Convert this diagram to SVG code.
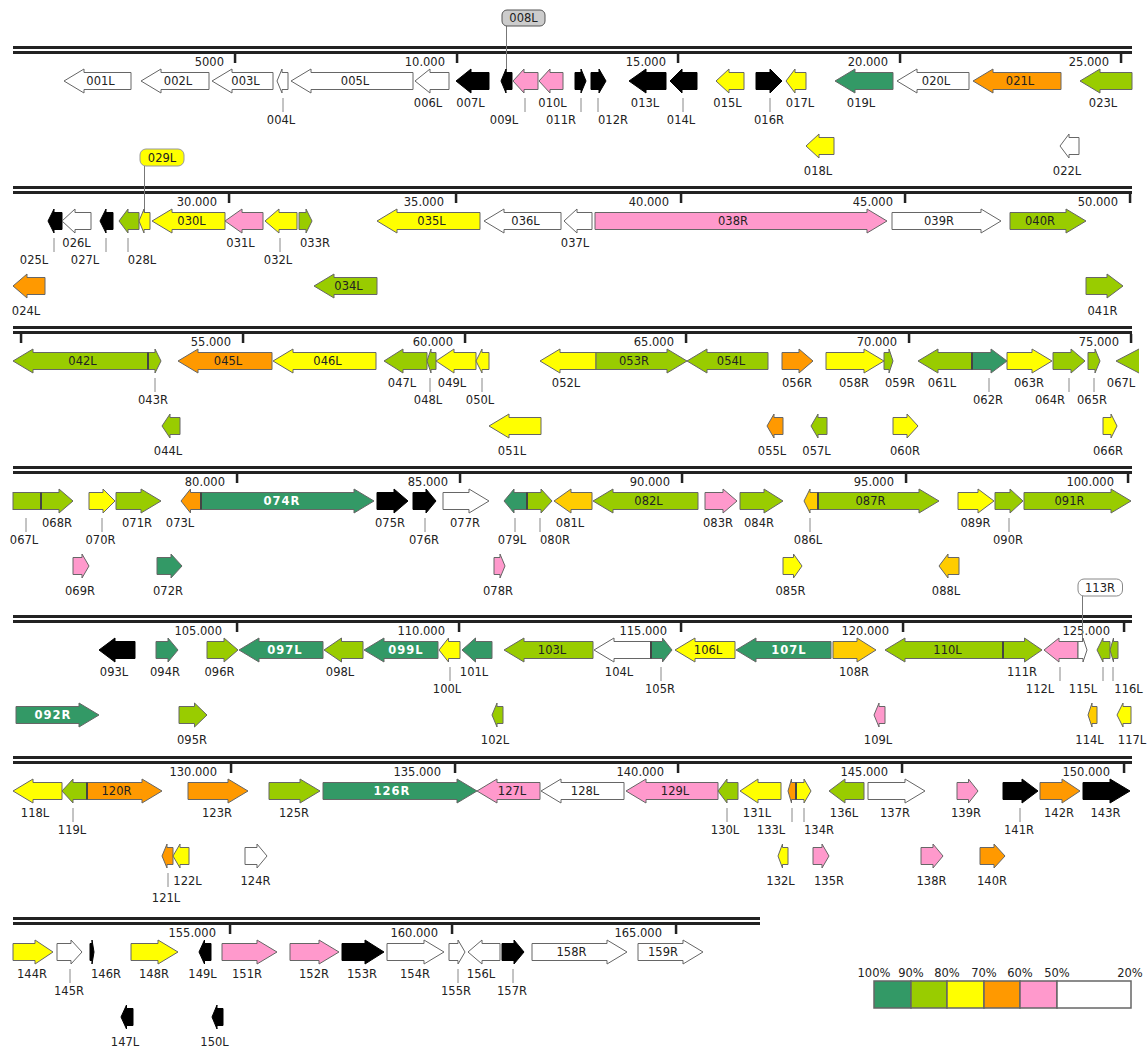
<svg xmlns="http://www.w3.org/2000/svg" width="1148" height="1049" viewBox="0 0 1148 1049">
<style>
.t{font-family:"DejaVu Sans",Verdana,sans-serif;font-size:11.5px;fill:#222;text-anchor:middle}
.te{text-anchor:end}
.tw{fill:#fff;font-weight:bold;letter-spacing:1px}
.a{stroke:#666;stroke-width:1}
.dg{fill:#339966}.lg{fill:#99cc00}.ye{fill:#ffff00}.or{fill:#ff9900}.pk{fill:#ff99cc}.wh{fill:#fff}.am{fill:#ffcc00}
.bk{fill:#000;stroke:#000}
.trk{fill:#222}
.ld{stroke:#888;stroke-width:1}
.dv{stroke:#444;stroke-width:2}
.co{stroke:#777;stroke-width:1}
</style>
<rect width="1148" height="1049" fill="#fff"/>
<g id="tracks">
<rect class="trk" x="13" y="46" width="1119" height="3"/><rect class="trk" x="13" y="51" width="1119" height="3"/>
<rect class="trk" x="13" y="186" width="1119" height="3"/><rect class="trk" x="13" y="191" width="1119" height="3"/>
<rect class="trk" x="13" y="326" width="1119" height="3"/><rect class="trk" x="13" y="331" width="1119" height="3"/>
<rect class="trk" x="13" y="466" width="1119" height="3"/><rect class="trk" x="13" y="471" width="1119" height="3"/>
<rect class="trk" x="13" y="615" width="1119" height="3"/><rect class="trk" x="13" y="620" width="1119" height="3"/>
<rect class="trk" x="13" y="756" width="1119" height="3"/><rect class="trk" x="13" y="761" width="1119" height="3"/>
<rect class="trk" x="13" y="917" width="747" height="3"/><rect class="trk" x="13" y="922" width="747" height="3"/>
<g class="trk">
<rect x="233.8" y="54" width="2.5" height="9"/><rect x="455.8" y="54" width="2.5" height="9"/><rect x="676.8" y="54" width="2.5" height="9"/><rect x="898.8" y="54" width="2.5" height="9"/><rect x="1119.8" y="54" width="2.5" height="9"/>
<rect x="227.8" y="194" width="2.5" height="9"/><rect x="454.8" y="194" width="2.5" height="9"/><rect x="679.8" y="194" width="2.5" height="9"/><rect x="903.8" y="194" width="2.5" height="9"/><rect x="1128.8" y="194" width="2.5" height="9"/>
<rect x="19.8" y="334" width="2.5" height="9"/><rect x="241.8" y="334" width="2.5" height="9"/><rect x="463.8" y="334" width="2.5" height="9"/><rect x="684.8" y="334" width="2.5" height="9"/><rect x="907.8" y="334" width="2.5" height="9"/><rect x="1129.8" y="334" width="2.5" height="9"/>
<rect x="235.8" y="474" width="2.5" height="9"/><rect x="458.8" y="474" width="2.5" height="9"/><rect x="680.8" y="474" width="2.5" height="9"/><rect x="904.8" y="474" width="2.5" height="9"/><rect x="1126.8" y="474" width="2.5" height="9"/>
<rect x="235.8" y="623" width="2.5" height="9"/><rect x="457.8" y="623" width="2.5" height="9"/><rect x="679.8" y="623" width="2.5" height="9"/><rect x="901.8" y="623" width="2.5" height="9"/><rect x="1122.8" y="623" width="2.5" height="9"/>
<rect x="229.8" y="764" width="2.5" height="9"/><rect x="453.8" y="764" width="2.5" height="9"/><rect x="676.8" y="764" width="2.5" height="9"/><rect x="900.8" y="764" width="2.5" height="9"/><rect x="1122.8" y="764" width="2.5" height="9"/>
<rect x="228.8" y="925" width="2.5" height="9"/><rect x="450.8" y="925" width="2.5" height="9"/><rect x="674.8" y="925" width="2.5" height="9"/>
</g>
<g class="t te">
<text x="224" y="66">5000</text><text x="445" y="66">10.000</text><text x="666" y="66">15.000</text><text x="888" y="66">20.000</text><text x="1109" y="66">25.000</text>
<text x="217" y="206">30.000</text><text x="444" y="206">35.000</text><text x="669" y="206">40.000</text><text x="893" y="206">45.000</text><text x="1118" y="206">50.000</text>
<text x="231" y="346">55.000</text><text x="453" y="346">60.000</text><text x="674" y="346">65.000</text><text x="897" y="346">70.000</text><text x="1119" y="346">75.000</text>
<text x="225" y="486">80.000</text><text x="448" y="486">85.000</text><text x="670" y="486">90.000</text><text x="894" y="486">95.000</text><text x="1114" y="486">100.000</text>
<text x="222" y="635">105.000</text><text x="445" y="635">110.000</text><text x="667" y="635">115.000</text><text x="889" y="635">120.000</text><text x="1110" y="635">125.000</text>
<text x="217" y="776">130.000</text><text x="441" y="776">135.000</text><text x="664" y="776">140.000</text><text x="888" y="776">145.000</text><text x="1110" y="776">150.000</text>
<text x="216" y="937">155.000</text><text x="438" y="937">160.000</text><text x="662" y="937">165.000</text>
</g>
</g>
<g id="connectors">
<line class="co" x1="506.5" y1="26" x2="506.5" y2="80"/>
<line class="co" x1="144.5" y1="166" x2="144.5" y2="220"/>
<line class="co" x1="1082.5" y1="596" x2="1082.5" y2="650"/>
<g class="ld">
<line x1="283" y1="98" x2="283" y2="112"/><line x1="525" y1="98" x2="525" y2="112"/><line x1="581" y1="98" x2="581" y2="112"/><line x1="598" y1="98" x2="598" y2="112"/><line x1="683" y1="98" x2="683" y2="112"/><line x1="770" y1="98" x2="770" y2="112"/>
<line x1="54" y1="238" x2="54" y2="252"/><line x1="106" y1="238" x2="106" y2="252"/><line x1="128" y1="238" x2="128" y2="252"/><line x1="280" y1="238" x2="280" y2="252"/>
<line x1="155" y1="378" x2="155" y2="392"/><line x1="430" y1="378" x2="430" y2="392"/><line x1="482" y1="378" x2="482" y2="392"/><line x1="989" y1="378" x2="989" y2="392"/><line x1="1069" y1="378" x2="1069" y2="392"/><line x1="1094" y1="378" x2="1094" y2="392"/>
<line x1="26" y1="518" x2="26" y2="532"/><line x1="102" y1="518" x2="102" y2="532"/><line x1="425" y1="518" x2="425" y2="532"/><line x1="515" y1="518" x2="515" y2="532"/><line x1="540" y1="518" x2="540" y2="532"/><line x1="810" y1="518" x2="810" y2="532"/><line x1="1009" y1="518" x2="1009" y2="532"/>
<line x1="450" y1="667" x2="450" y2="681"/><line x1="661" y1="667" x2="661" y2="681"/><line x1="1060" y1="667" x2="1060" y2="681"/><line x1="1103" y1="667" x2="1103" y2="681"/><line x1="1113" y1="667" x2="1113" y2="681"/>
<line x1="73" y1="808" x2="73" y2="822"/><line x1="727" y1="808" x2="727" y2="822"/><line x1="792" y1="808" x2="792" y2="822"/><line x1="804" y1="808" x2="804" y2="822"/><line x1="1020" y1="808" x2="1020" y2="822"/>
<line x1="168" y1="873" x2="168" y2="887"/>
<line x1="70" y1="969" x2="70" y2="983"/><line x1="458" y1="969" x2="458" y2="983"/><line x1="513" y1="969" x2="513" y2="983"/>
</g>
</g>
<g id="nodes">
<!-- Row 1 -->
<g id="n001L"><path class="a wh" d="M64,81 l20,-12 v3.5 h47 v17 h-47 v3.5 z"/><text class="t" x="100.5" y="85">001L</text></g>
<g id="n002L"><path class="a wh" d="M141,81 l20,-12 v3.5 h48 v17 h-48 v3.5 z"/><text class="t" x="178" y="85">002L</text></g>
<g id="n003L"><path class="a wh" d="M212,81 l20,-12 v3.5 h41 v17 h-41 v3.5 z"/><text class="t" x="245.5" y="85">003L</text></g>
<g id="n004L"><path class="a wh" d="M277,81 l5,-12 v3.5 h6 v17 h-6 v3.5 z"/><text class="t" x="281" y="124">004L</text></g>
<g id="n005L"><path class="a wh" d="M291,81 l20,-12 v3.5 h102 v17 h-102 v3.5 z"/><text class="t" x="355" y="85">005L</text></g>
<g id="n006L"><path class="a wh" d="M415,81 l15,-12 v3.5 h19 v17 h-19 v3.5 z"/><text class="t" x="428" y="107">006L</text></g>
<g id="n007L"><path class="a bk" d="M456,81 l15,-12 v3.5 h18 v17 h-18 v3.5 z"/><text class="t" x="470.5" y="107">007L</text></g>
<g id="n008L"><path class="a bk" d="M501,81 l5,-12 v3.5 h6 v17 h-6 v3.5 z"/><rect x="502" y="10" width="43" height="16" rx="5" fill="#ccc" stroke="#555"/><text class="t" x="523.5" y="22">008L</text></g>
<g id="n009L"><path class="a pk" d="M513,81 l11,-12 v3.5 h14 v17 h-14 v3.5 z"/><text class="t" x="504" y="124">009L</text></g>
<g id="n010L"><path class="a pk" d="M539,81 l11,-12 v3.5 h13 v17 h-13 v3.5 z"/><text class="t" x="552.5" y="107">010L</text></g>
<g id="n011R"><path class="a bk" d="M586,81 l-5,-12 v3.5 h-6 v17 h6 v3.5 z"/><text class="t" x="561" y="124">011R</text></g>
<g id="n012R"><path class="a bk" d="M606,81 l-7,-12 v3.5 h-8 v17 h8 v3.5 z"/><text class="t" x="613" y="124">012R</text></g>
<g id="n013L"><path class="a bk" d="M629,81 l17,-12 v3.5 h20 v17 h-20 v3.5 z"/><text class="t" x="645" y="107">013L</text></g>
<g id="n014L"><path class="a bk" d="M670,81 l12,-12 v3.5 h15 v17 h-15 v3.5 z"/><text class="t" x="681" y="124">014L</text></g>
<g id="n015L"><path class="a ye" d="M716,81 l13,-12 v3.5 h15 v17 h-15 v3.5 z"/><text class="t" x="727.5" y="107">015L</text></g>
<g id="n016R"><path class="a bk" d="M782,81 l-12,-12 v3.5 h-14 v17 h14 v3.5 z"/><text class="t" x="769" y="124">016R</text></g>
<g id="n017L"><path class="a ye" d="M786,81 l9,-12 v3.5 h11 v17 h-11 v3.5 z"/><text class="t" x="800" y="107">017L</text></g>
<g id="n018L"><path class="a ye" d="M806,146 l13,-12 v3.5 h15 v17 h-15 v3.5 z"/><text class="t" x="818" y="175">018L</text></g>
<g id="n019L"><path class="a dg" d="M835,81 l20,-12 v3.5 h38 v17 h-38 v3.5 z"/><text class="t" x="861" y="107">019L</text></g>
<g id="n020L"><path class="a wh" d="M897,81 l20,-12 v3.5 h52 v17 h-52 v3.5 z"/><text class="t" x="936" y="85">020L</text></g>
<g id="n021L"><path class="a or" d="M973,81 l20,-12 v3.5 h68 v17 h-68 v3.5 z"/><text class="t" x="1020" y="85">021L</text></g>
<g id="n022L"><path class="a wh" d="M1060,146 l9,-12 v3.5 h10 v17 h-10 v3.5 z"/><text class="t" x="1067" y="175">022L</text></g>
<g id="n023L"><path class="a lg" d="M1080,81 l20,-12 v3.5 h32 v17 h-32 v3.5 z"/><text class="t" x="1103" y="107">023L</text></g>
<!-- Row 2 -->
<g id="n024L"><path class="a or" d="M13,286 l14,-12 v3.5 h18 v17 h-18 v3.5 z"/><text class="t" x="26" y="315">024L</text></g>
<g id="n025L"><path class="a bk" d="M48,221 l6,-12 v3.5 h8 v17 h-8 v3.5 z"/><text class="t" x="34" y="264">025L</text></g>
<g id="n026L"><path class="a wh" d="M62,221 l13,-12 v3.5 h16 v17 h-16 v3.5 z"/><text class="t" x="76.5" y="247">026L</text></g>
<g id="n027L"><path class="a bk" d="M100,221 l6,-12 v3.5 h7 v17 h-7 v3.5 z"/><text class="t" x="85" y="264">027L</text></g>
<g id="n028L"><path class="a lg" d="M119,221 l9,-12 v3.5 h11 v17 h-11 v3.5 z"/><text class="t" x="142" y="264">028L</text></g>
<g id="n029L"><path class="a ye" d="M139,221 l5,-12 v3.5 h6 v17 h-6 v3.5 z"/><rect x="140" y="149" width="44" height="17" rx="6" fill="#ffff00" stroke="#999"/><text class="t" x="162" y="161.5">029L</text></g>
<g id="n030L"><path class="a ye" d="M152,221 l20,-12 v3.5 h53 v17 h-53 v3.5 z"/><text class="t" x="191.5" y="225">030L</text></g>
<g id="n031L"><path class="a pk" d="M225,221 l17,-12 v3.5 h21 v17 h-21 v3.5 z"/><text class="t" x="240.5" y="247">031L</text></g>
<g id="n032L"><path class="a ye" d="M265,221 l14,-12 v3.5 h18 v17 h-18 v3.5 z"/><text class="t" x="278" y="264">032L</text></g>
<g id="n033R"><path class="a lg" d="M312,221 l-6,-12 v3.5 h-7 v17 h7 v3.5 z"/><text class="t" x="315" y="247">033R</text></g>
<g id="n034L"><path class="a lg" d="M314,286 l20,-12 v3.5 h43 v17 h-43 v3.5 z"/><text class="t" x="348.5" y="290">034L</text></g>
<g id="n035L"><path class="a ye" d="M377,221 l20,-12 v3.5 h83 v17 h-83 v3.5 z"/><text class="t" x="431.5" y="225">035L</text></g>
<g id="n036L"><path class="a wh" d="M484,221 l20,-12 v3.5 h57 v17 h-57 v3.5 z"/><text class="t" x="525.5" y="225">036L</text></g>
<g id="n037L"><path class="a wh" d="M564,221 l13,-12 v3.5 h15 v17 h-15 v3.5 z"/><text class="t" x="575" y="247">037L</text></g>
<g id="n038R"><path class="a pk" d="M887,221 l-20,-12 v3.5 h-272 v17 h272 v3.5 z"/><text class="t" x="733" y="225">038R</text></g>
<g id="n039R"><path class="a wh" d="M1001,221 l-20,-12 v3.5 h-89 v17 h89 v3.5 z"/><text class="t" x="939" y="225">039R</text></g>
<g id="n040R"><path class="a lg" d="M1086,221 l-20,-12 v3.5 h-56 v17 h56 v3.5 z"/><text class="t" x="1040" y="225">040R</text></g>
<g id="n041R"><path class="a lg" d="M1123,286 l-16,-12 v3.5 h-21 v17 h21 v3.5 z"/><text class="t" x="1102.5" y="315">041R</text></g>
<!-- Row 3 -->
<g id="n042L"><path class="a lg" d="M13,361 l20,-12 v3.5 h117 v17 h-117 v3.5 z"/><text class="t" x="82.5" y="365">042L</text></g>
<g id="n043R"><path class="a lg" d="M161,361 l-6,-12 v3.5 h-7 v17 h7 v3.5 z"/><line class="dv" x1="148" y1="352.5" x2="148" y2="369.5"/><text class="t" x="153" y="404">043R</text></g>
<g id="n044L"><path class="a lg" d="M162,426 l8,-12 v3.5 h10 v17 h-10 v3.5 z"/><text class="t" x="168" y="455">044L</text></g>
<g id="n045L"><path class="a or" d="M178,361 l20,-12 v3.5 h74 v17 h-74 v3.5 z"/><text class="t" x="228" y="365">045L</text></g>
<g id="n046L"><path class="a ye" d="M273,361 l20,-12 v3.5 h83 v17 h-83 v3.5 z"/><text class="t" x="327.5" y="365">046L</text></g>
<g id="n047L"><path class="a lg" d="M384,361 l19,-12 v3.5 h24 v17 h-24 v3.5 z"/><text class="t" x="402" y="387">047L</text></g>
<g id="n048L"><path class="a lg" d="M427,361 l4,-12 v3.5 h5 v17 h-5 v3.5 z"/><text class="t" x="428" y="404">048L</text></g>
<g id="n049L"><path class="a ye" d="M436,361 l18,-12 v3.5 h22 v17 h-22 v3.5 z"/><text class="t" x="452" y="387">049L</text></g>
<g id="n050L"><path class="a ye" d="M476,361 l6,-12 v3.5 h7 v17 h-7 v3.5 z"/><text class="t" x="480" y="404">050L</text></g>
<g id="n051L"><path class="a ye" d="M489,426 l20,-12 v3.5 h32 v17 h-32 v3.5 z"/><text class="t" x="512" y="455">051L</text></g>
<g id="n052L"><path class="a ye" d="M540,361 l20,-12 v3.5 h36 v17 h-36 v3.5 z"/><text class="t" x="566" y="387">052L</text></g>
<g id="n053R"><path class="a lg" d="M687,361 l-20,-12 v3.5 h-71 v17 h71 v3.5 z"/><text class="t" x="634" y="365">053R</text></g>
<g id="n054L"><path class="a lg" d="M687,361 l20,-12 v3.5 h61 v17 h-61 v3.5 z"/><text class="t" x="731" y="365">054L</text></g>
<g id="n055L"><path class="a or" d="M767,426 l7,-12 v3.5 h9 v17 h-9 v3.5 z"/><text class="t" x="772" y="455">055L</text></g>
<g id="n056R"><path class="a or" d="M813,361 l-14,-12 v3.5 h-17 v17 h17 v3.5 z"/><text class="t" x="797" y="387">056R</text></g>
<g id="n057L"><path class="a lg" d="M811,426 l7,-12 v3.5 h9 v17 h-9 v3.5 z"/><text class="t" x="816.5" y="455">057L</text></g>
<g id="n058R"><path class="a ye" d="M884,361 l-20,-12 v3.5 h-38 v17 h38 v3.5 z"/><text class="t" x="854" y="387">058R</text></g>
<g id="n059R"><path class="a lg" d="M893,361 l-4,-12 v3.5 h-5 v17 h5 v3.5 z"/><text class="t" x="900" y="387">059R</text></g>
<g id="n060R"><path class="a ye" d="M918,426 l-11,-12 v3.5 h-14 v17 h14 v3.5 z"/><text class="t" x="905" y="455">060R</text></g>
<g id="n061L"><path class="a lg" d="M918,361 l20,-12 v3.5 h34 v17 h-34 v3.5 z"/><text class="t" x="942" y="387">061L</text></g>
<g id="n062R"><path class="a dg" d="M1007,361 l-16,-12 v3.5 h-19 v17 h19 v3.5 z"/><line class="dv" x1="972" y1="352.5" x2="972" y2="369.5"/><text class="t" x="988" y="404">062R</text></g>
<g id="n063R"><path class="a ye" d="M1052,361 l-20,-12 v3.5 h-25 v17 h25 v3.5 z"/><text class="t" x="1029" y="387">063R</text></g>
<g id="n064R"><path class="a lg" d="M1085,361 l-14,-12 v3.5 h-18 v17 h18 v3.5 z"/><text class="t" x="1050" y="404">064R</text></g>
<g id="n065R"><path class="a lg" d="M1100,361 l-5,-12 v3.5 h-7 v17 h7 v3.5 z"/><text class="t" x="1092" y="404">065R</text></g>
<g id="n066R"><path class="a ye" d="M1117,426 l-6,-12 v3.5 h-8 v17 h8 v3.5 z"/><text class="t" x="1108" y="455">066R</text></g>
<g id="n067L"><path class="a lg" d="M1139,349 L1116,361 L1139,373"/><text class="t" x="1121" y="387">067L</text><rect class="a lg" x="13" y="492.5" width="28" height="17"/><text class="t" x="24" y="544">067L</text></g>
<!-- Row 4 -->
<g id="n068R"><path class="a lg" d="M73,501 l-14,-12 v3.5 h-18 v17 h18 v3.5 z"/><line class="dv" x1="41" y1="492.5" x2="41" y2="509.5"/><text class="t" x="57" y="527">068R</text></g>
<g id="n069R"><path class="a pk" d="M89,566 l-7,-12 v3.5 h-9 v17 h9 v3.5 z"/><text class="t" x="80" y="595">069R</text></g>
<g id="n070R"><path class="a ye" d="M115,501 l-12,-12 v3.5 h-14 v17 h14 v3.5 z"/><text class="t" x="100.5" y="544">070R</text></g>
<g id="n071R"><path class="a lg" d="M161,501 l-20,-12 v3.5 h-25 v17 h25 v3.5 z"/><text class="t" x="137" y="527">071R</text></g>
<g id="n072R"><path class="a dg" d="M182,566 l-11,-12 v3.5 h-14 v17 h14 v3.5 z"/><text class="t" x="168" y="595">072R</text></g>
<g id="n073L"><path class="a or" d="M181,501 l9.5,-12 v3.5 h11.5 v17 h-11.5 v3.5 z"/><text class="t" x="180" y="527">073L</text></g>
<g id="n074R"><path class="a dg" d="M374,501 l-20,-12 v3.5 h-153 v17 h153 v3.5 z"/><line class="dv" x1="201" y1="492.5" x2="201" y2="509.5"/><text class="t tw" x="282" y="505">074R</text></g>
<g id="n075R"><path class="a bk" d="M408,501 l-14,-12 v3.5 h-17 v17 h17 v3.5 z"/><text class="t" x="390" y="527">075R</text></g>
<g id="n076R"><path class="a bk" d="M436,501 l-10,-12 v3.5 h-13 v17 h13 v3.5 z"/><text class="t" x="424" y="544">076R</text></g>
<g id="n077R"><path class="a wh" d="M489,501 l-20,-12 v3.5 h-26 v17 h26 v3.5 z"/><text class="t" x="465" y="527">077R</text></g>
<g id="n078R"><path class="a pk" d="M505,566 l-5,-12 v3.5 h-6 v17 h6 v3.5 z"/><text class="t" x="498" y="595">078R</text></g>
<g id="n079L"><path class="a dg" d="M504,501 l10,-12 v3.5 h13 v17 h-13 v3.5 z"/><text class="t" x="512" y="544">079L</text></g>
<g id="n080R"><path class="a lg" d="M552,501 l-11,-12 v3.5 h-14 v17 h14 v3.5 z"/><line class="dv" x1="527" y1="492.5" x2="527" y2="509.5"/><text class="t" x="555" y="544">080R</text></g>
<g id="n081L"><path class="a am" d="M554,501 l17,-12 v3.5 h21 v17 h-21 v3.5 z"/><text class="t" x="570" y="527">081L</text></g>
<g id="n082L"><path class="a lg" d="M593,501 l20,-12 v3.5 h85 v17 h-85 v3.5 z"/><text class="t" x="648.5" y="505">082L</text></g>
<g id="n083R"><path class="a pk" d="M737,501 l-14,-12 v3.5 h-18 v17 h18 v3.5 z"/><text class="t" x="718" y="527">083R</text></g>
<g id="n084R"><path class="a lg" d="M783,501 l-19,-12 v3.5 h-24 v17 h24 v3.5 z"/><text class="t" x="759" y="527">084R</text></g>
<g id="n085R"><path class="a ye" d="M802,566 l-8.5,-12 v3.5 h-10.5 v17 h10.5 v3.5 z"/><text class="t" x="790.5" y="595">085R</text></g>
<g id="n086L"><path class="a am" d="M804,501 l6,-12 v3.5 h8 v17 h-8 v3.5 z"/><text class="t" x="808" y="544">086L</text></g>
<g id="n087R"><path class="a lg" d="M939,501 l-20,-12 v3.5 h-101 v17 h101 v3.5 z"/><line class="dv" x1="818" y1="492.5" x2="818" y2="509.5"/><text class="t" x="870.5" y="505">087R</text></g>
<g id="n088L"><path class="a am" d="M939,566 l9,-12 v3.5 h11 v17 h-11 v3.5 z"/><text class="t" x="946" y="595">088L</text></g>
<g id="n089R"><path class="a ye" d="M994,501 l-16,-12 v3.5 h-20 v17 h20 v3.5 z"/><text class="t" x="975.5" y="527">089R</text></g>
<g id="n090R"><path class="a lg" d="M1023,501 l-13,-12 v3.5 h-15 v17 h15 v3.5 z"/><text class="t" x="1008" y="544">090R</text></g>
<g id="n091R"><path class="a lg" d="M1131,501 l-20,-12 v3.5 h-87 v17 h87 v3.5 z"/><text class="t" x="1069.5" y="505">091R</text></g>
<!-- Row 5 -->
<g id="n092R"><path class="a dg" d="M99,715 l-20,-12 v3.5 h-63 v17 h63 v3.5 z"/><text class="t tw" x="53" y="719">092R</text></g>
<g id="n093L"><path class="a bk" d="M99,650 l16,-12 v3.5 h20 v17 h-20 v3.5 z"/><text class="t" x="114" y="676">093L</text></g>
<g id="n094R"><path class="a dg" d="M178,650 l-10,-12 v3.5 h-12 v17 h12 v3.5 z"/><text class="t" x="165" y="676">094R</text></g>
<g id="n095R"><path class="a lg" d="M207,715 l-12.5,-12 v3.5 h-15.5 v17 h15.5 v3.5 z"/><text class="t" x="192" y="744">095R</text></g>
<g id="n096R"><path class="a lg" d="M238,650 l-14,-12 v3.5 h-17 v17 h17 v3.5 z"/><text class="t" x="219.5" y="676">096R</text></g>
<g id="n097L"><path class="a dg" d="M239,650 l20,-12 v3.5 h64 v17 h-64 v3.5 z"/><text class="t tw" x="285" y="654">097L</text></g>
<g id="n098L"><path class="a lg" d="M324,650 l17.5,-12 v3.5 h21.5 v17 h-21.5 v3.5 z"/><text class="t" x="340" y="676">098L</text></g>
<g id="n099L"><path class="a dg" d="M364,650 l20,-12 v3.5 h54 v17 h-54 v3.5 z"/><text class="t tw" x="406" y="654">099L</text></g>
<g id="n100L"><path class="a ye" d="M439,650 l9.5,-12 v3.5 h11.5 v17 h-11.5 v3.5 z"/><text class="t" x="447" y="693">100L</text></g>
<g id="n101L"><path class="a dg" d="M462,650 l13.5,-12 v3.5 h16.5 v17 h-16.5 v3.5 z"/><text class="t" x="474" y="676">101L</text></g>
<g id="n102L"><path class="a lg" d="M492,715 l5,-12 v3.5 h6 v17 h-6 v3.5 z"/><text class="t" x="495" y="744">102L</text></g>
<g id="n103L"><path class="a lg" d="M504,650 l20,-12 v3.5 h69 v17 h-69 v3.5 z"/><text class="t" x="552" y="654">103L</text></g>
<g id="n104L"><path class="a wh" d="M594,650 l20,-12 v3.5 h37 v17 h-37 v3.5 z"/><text class="t" x="619" y="676">104L</text></g>
<g id="n105R"><path class="a dg" d="M672,650 l-9.5,-12 v3.5 h-11.5 v17 h11.5 v3.5 z"/><line class="dv" x1="651" y1="641.5" x2="651" y2="658.5"/><text class="t" x="660" y="693">105R</text></g>
<g id="n106L"><path class="a ye" d="M675,650 l20,-12 v3.5 h40 v17 h-40 v3.5 z"/><text class="t" x="708" y="654">106L</text></g>
<g id="n107L"><path class="a dg" d="M736,650 l20,-12 v3.5 h75 v17 h-75 v3.5 z"/><text class="t tw" x="789" y="654">107L</text></g>
<g id="n108R"><path class="a am" d="M876,650 l-19,-12 v3.5 h-24 v17 h24 v3.5 z"/><text class="t" x="854" y="676">108R</text></g>
<g id="n109L"><path class="a pk" d="M874,715 l5,-12 v3.5 h6 v17 h-6 v3.5 z"/><text class="t" x="878" y="744">109L</text></g>
<g id="n110L"><path class="a lg" d="M885,650 l20,-12 v3.5 h98 v17 h-98 v3.5 z"/><text class="t" x="947.5" y="654">110L</text></g>
<g id="n111R"><path class="a lg" d="M1042,650 l-17.5,-12 v3.5 h-21.5 v17 h21.5 v3.5 z"/><line class="dv" x1="1003" y1="641.5" x2="1003" y2="658.5"/><text class="t" x="1022" y="676">111R</text></g>
<g id="n112L"><path class="a pk" d="M1044,650 l15,-12 v3.5 h19 v17 h-19 v3.5 z"/><text class="t" x="1040" y="693">112L</text></g>
<g id="n113R"><path class="a wh" d="M1087,650 l-4,-12 v3.5 h-5 v17 h5 v3.5 z"/><rect x="1078" y="579" width="44.5" height="17" rx="6" fill="#fff" stroke="#888"/><text class="t" x="1100" y="591.5">113R</text></g>
<g id="n114L"><path class="a am" d="M1088,715 l4,-12 v3.5 h5 v17 h-5 v3.5 z"/><text class="t" x="1089.5" y="744">114L</text></g>
<g id="n115L"><path class="a lg" d="M1097,650 l6,-12 v3.5 h7 v17 h-7 v3.5 z"/><text class="t" x="1083" y="693">115L</text></g>
<g id="n116L"><path class="a lg" d="M1110,650 l3.5,-12 v3.5 h4.5 v17 h-4.5 v3.5 z"/><text class="t" x="1128.5" y="693">116L</text></g>
<g id="n117L"><path class="a ye" d="M1117,715 l6,-12 v3.5 h8 v17 h-8 v3.5 z"/><text class="t" x="1132" y="744">117L</text></g>
<!-- Row 6 -->
<g id="n118L"><path class="a ye" d="M13,791 l20,-12 v3.5 h29 v17 h-29 v3.5 z"/><text class="t" x="35" y="817">118L</text></g>
<g id="n119L"><path class="a lg" d="M62,791 l11,-12 v3.5 h14 v17 h-14 v3.5 z"/><text class="t" x="72" y="834">119L</text></g>
<g id="n120R"><path class="a or" d="M162,791 l-20,-12 v3.5 h-55 v17 h55 v3.5 z"/><line class="dv" x1="87" y1="782.5" x2="87" y2="799.5"/><text class="t" x="116.5" y="795">120R</text></g>
<g id="n121L"><path class="a or" d="M162,856 l5,-12 v3.5 h6 v17 h-6 v3.5 z"/><text class="t" x="166" y="902">121L</text></g>
<g id="n122L"><path class="a ye" d="M173,856 l7,-12 v3.5 h9 v17 h-9 v3.5 z"/><text class="t" x="187.5" y="885">122L</text></g>
<g id="n123R"><path class="a or" d="M248,791 l-20,-12 v3.5 h-40 v17 h40 v3.5 z"/><text class="t" x="217" y="817">123R</text></g>
<g id="n124R"><path class="a wh" d="M267,856 l-10,-12 v3.5 h-12 v17 h12 v3.5 z"/><text class="t" x="255.5" y="885">124R</text></g>
<g id="n125R"><path class="a lg" d="M320,791 l-20,-12 v3.5 h-31 v17 h31 v3.5 z"/><text class="t" x="294" y="817">125R</text></g>
<g id="n126R"><path class="a dg" d="M477,791 l-20,-12 v3.5 h-134 v17 h134 v3.5 z"/><text class="t tw" x="392" y="795">126R</text></g>
<g id="n127L"><path class="a pk" d="M477,791 l20,-12 v3.5 h43 v17 h-43 v3.5 z"/><text class="t" x="512" y="795">127L</text></g>
<g id="n128L"><path class="a wh" d="M541,791 l20,-12 v3.5 h63 v17 h-63 v3.5 z"/><text class="t" x="585" y="795">128L</text></g>
<g id="n129L"><path class="a pk" d="M626,791 l20,-12 v3.5 h72 v17 h-72 v3.5 z"/><text class="t" x="675" y="795">129L</text></g>
<g id="n130L"><path class="a lg" d="M718,791 l9,-12 v3.5 h11 v17 h-11 v3.5 z"/><text class="t" x="725" y="834">130L</text></g>
<g id="n131L"><path class="a ye" d="M740,791 l18,-12 v3.5 h23 v17 h-23 v3.5 z"/><text class="t" x="757" y="817">131L</text></g>
<g id="n132L"><path class="a ye" d="M778,856 l4.5,-12 v3.5 h5.5 v17 h-5.5 v3.5 z"/><text class="t" x="780.5" y="885">132L</text></g>
<g id="n133L"><path class="a or" d="M788,791 l3.5,-12 v3.5 h4.5 v17 h-4.5 v3.5 z"/><text class="t" x="771" y="834">133L</text></g>
<g id="n134R"><path class="a ye" d="M811,791 l-7,-12 v3.5 h-8 v17 h8 v3.5 z"/><line class="dv" x1="796" y1="782.5" x2="796" y2="799.5"/><text class="t" x="819" y="834">134R</text></g>
<g id="n135R"><path class="a pk" d="M829,856 l-7,-12 v3.5 h-9 v17 h9 v3.5 z"/><text class="t" x="829" y="885">135R</text></g>
<g id="n136L"><path class="a lg" d="M829,791 l16,-12 v3.5 h19 v17 h-19 v3.5 z"/><text class="t" x="844" y="817">136L</text></g>
<g id="n137R"><path class="a wh" d="M925,791 l-20,-12 v3.5 h-37 v17 h37 v3.5 z"/><text class="t" x="895" y="817">137R</text></g>
<g id="n138R"><path class="a pk" d="M943,856 l-10,-12 v3.5 h-12 v17 h12 v3.5 z"/><text class="t" x="931.5" y="885">138R</text></g>
<g id="n139R"><path class="a pk" d="M978,791 l-9.5,-12 v3.5 h-11.5 v17 h11.5 v3.5 z"/><text class="t" x="966" y="817">139R</text></g>
<g id="n140R"><path class="a or" d="M1005,856 l-11,-12 v3.5 h-14 v17 h14 v3.5 z"/><text class="t" x="992" y="885">140R</text></g>
<g id="n141R"><path class="a bk" d="M1038,791 l-16,-12 v3.5 h-19 v17 h19 v3.5 z"/><text class="t" x="1019" y="834">141R</text></g>
<g id="n142R"><path class="a or" d="M1080,791 l-18,-12 v3.5 h-22 v17 h22 v3.5 z"/><text class="t" x="1059" y="817">142R</text></g>
<g id="n143R"><path class="a bk" d="M1130,791 l-20,-12 v3.5 h-27 v17 h27 v3.5 z"/><text class="t" x="1105.5" y="817">143R</text></g>
<!-- Row 7 -->
<g id="n144R"><path class="a ye" d="M53,952 l-18,-12 v3.5 h-22 v17 h22 v3.5 z"/><text class="t" x="32" y="978">144R</text></g>
<g id="n145R"><path class="a wh" d="M82,952 l-11,-12 v3.5 h-14 v17 h14 v3.5 z"/><text class="t" x="69" y="995">145R</text></g>
<g id="n146R"><path class="a bk" d="M94,952 l-2,-12 v3.5 h-2 v17 h2 v3.5 z"/><text class="t" x="106" y="978">146R</text></g>
<g id="n147L"><path class="a bk" d="M121,1017 l5.5,-12 v3.5 h6.5 v17 h-6.5 v3.5 z"/><text class="t" x="125" y="1046">147L</text></g>
<g id="n148R"><path class="a ye" d="M178,952 l-20,-12 v3.5 h-27 v17 h27 v3.5 z"/><text class="t" x="154" y="978">148R</text></g>
<g id="n149L"><path class="a bk" d="M199,952 l5.5,-12 v3.5 h6.5 v17 h-6.5 v3.5 z"/><text class="t" x="202.5" y="978">149L</text></g>
<g id="n150L"><path class="a bk" d="M212,1017 l5,-12 v3.5 h6 v17 h-6 v3.5 z"/><text class="t" x="214.5" y="1046">150L</text></g>
<g id="n151R"><path class="a pk" d="M277,952 l-20,-12 v3.5 h-35 v17 h35 v3.5 z"/><text class="t" x="247" y="978">151R</text></g>
<g id="n152R"><path class="a pk" d="M339,952 l-20,-12 v3.5 h-29 v17 h29 v3.5 z"/><text class="t" x="314" y="978">152R</text></g>
<g id="n153R"><path class="a bk" d="M384,952 l-19,-12 v3.5 h-23 v17 h23 v3.5 z"/><text class="t" x="362" y="978">153R</text></g>
<g id="n154R"><path class="a wh" d="M444,952 l-20,-12 v3.5 h-37 v17 h37 v3.5 z"/><text class="t" x="415" y="978">154R</text></g>
<g id="n155R"><path class="a wh" d="M465,952 l-7,-12 v3.5 h-9 v17 h9 v3.5 z"/><text class="t" x="456" y="995">155R</text></g>
<g id="n156L"><path class="a wh" d="M468,952 l14,-12 v3.5 h18 v17 h-18 v3.5 z"/><text class="t" x="481" y="978">156L</text></g>
<g id="n157R"><path class="a bk" d="M524,952 l-10,-12 v3.5 h-12 v17 h12 v3.5 z"/><text class="t" x="512" y="995">157R</text></g>
<g id="n158R"><path class="a wh" d="M627,952 l-20,-12 v3.5 h-75 v17 h75 v3.5 z"/><text class="t" x="571.5" y="956">158R</text></g>
<g id="n159R"><path class="a wh" d="M703,952 l-20,-12 v3.5 h-45 v17 h45 v3.5 z"/><text class="t" x="663" y="956">159R</text></g>
</g>
<g id="legend">
<g stroke="#666" stroke-width="1.5">
<rect x="874" y="981" width="37" height="27" fill="#339966"/>
<rect x="911" y="981" width="36" height="27" fill="#99cc00"/>
<rect x="947" y="981" width="37" height="27" fill="#ffff00"/>
<rect x="984" y="981" width="36" height="27" fill="#ff9900"/>
<rect x="1020" y="981" width="37" height="27" fill="#ff99cc"/>
<rect x="1057" y="981" width="74" height="27" fill="#fff"/>
</g>
<text class="t" x="874" y="977">100%</text><text class="t" x="911" y="977">90%</text><text class="t" x="947" y="977">80%</text><text class="t" x="984" y="977">70%</text><text class="t" x="1020" y="977">60%</text><text class="t" x="1057" y="977">50%</text><text class="t" x="1130" y="977">20%</text>
</g>
</svg>
